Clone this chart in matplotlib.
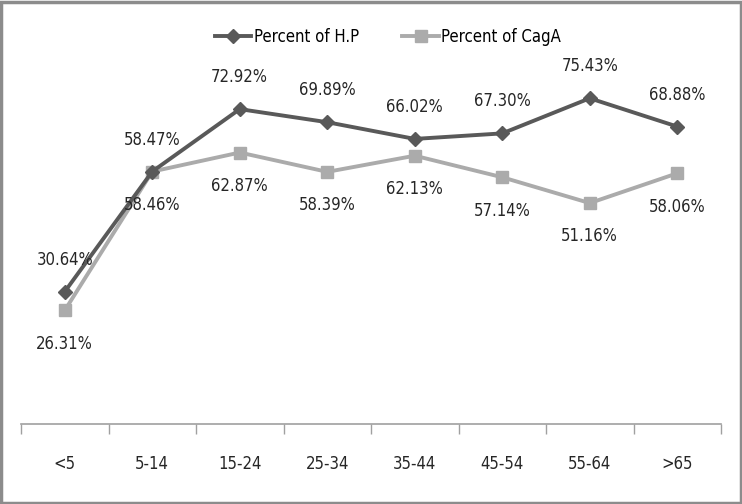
import matplotlib
matplotlib.use("Agg")
import matplotlib.pyplot as plt
from matplotlib.patches import Rectangle

categories = ["<5", "5-14", "15-24", "25-34", "35-44", "45-54", "55-64", ">65"]
hp_values = [30.64, 58.47, 72.92, 69.89, 66.02, 67.30, 75.43, 68.88]
caga_values = [26.31, 58.46, 62.87, 58.39, 62.13, 57.14, 51.16, 58.06]
series_names = ["Percent of H.P", "Percent of CagA"]

plt.rcParams['font.family'] = ["DejaVu Sans"]
plt.rcParams['font.stretch'] = "condensed"

fig = plt.figure(figsize=(7.42, 5.04), dpi=100)
ax = fig.add_axes([21/742, 80/504, 700/742, 380/504])

x = list(range(len(categories)))
dark = "#595959"
light = "#ABABAB"
ax.plot(x, hp_values, color=dark, lw=2.8, marker="D", ms=7.5, mec=dark, mfc=dark,
        label=series_names[0], zorder=3)
ax.plot(x, caga_values, color=light, lw=2.8, marker="s", ms=9, mec=light, mfc=light,
        label=series_names[1], zorder=2)

for xi, v in zip(x, hp_values):
    ax.annotate(f"{v:.2f}%", (xi, v), xytext=(0, 23), textcoords="offset points",
                ha="center", va="center", fontsize=12, color="#262626", fontstretch="condensed")
for xi, v in zip(x, caga_values):
    ax.annotate(f"{v:.2f}%", (xi, v), xytext=(0, -24), textcoords="offset points",
                ha="center", va="center", fontsize=12, color="#262626", fontstretch="condensed")

ax.set_xlim(-0.5, len(categories) - 0.5)
ax.set_ylim(0, 88)
ax.set_xticks(x)
ax.set_xticklabels(categories, fontsize=12, color="#262626", fontstretch="condensed")
ax.set_xticks([i - 0.5 for i in range(len(categories) + 1)], minor=True)
ax.tick_params(axis="x", which="major", length=0, pad=22)
ax.tick_params(axis="x", which="minor", length=7, color="#A0A0A0", width=1)
ax.set_yticks([])
for s in ["top", "right", "left"]:
    ax.spines[s].set_visible(False)
ax.spines["bottom"].set_color("#A0A0A0")
ax.spines["bottom"].set_linewidth(1.2)

leg = ax.legend(loc="center", bbox_to_anchor=(388/742, 1 - 37/504), bbox_transform=fig.transFigure,
                ncol=2, frameon=False, prop={"size": 12, "stretch": "condensed"},
                handlelength=2.2, columnspacing=2.6, handletextpad=0.15)

fig.patches.append(Rectangle((0.002, 0.002), 0.996, 0.994, transform=fig.transFigure,
                             fill=False, edgecolor="#8C8C8C", lw=2.5))

fig.savefig("out.png", dpi=100)
